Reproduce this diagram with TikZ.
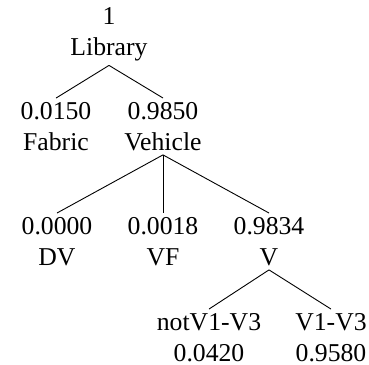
\documentclass[tikz,border=0pt]{standalone}
\usepackage{fontspec}
\setmainfont{Liberation Serif}
\usetikzlibrary{positioning}

\begin{document}
\begin{tikzpicture}[
    x=1pt, y=1pt,
    node distance=92pt,
    font=\fontsize{25.7}{31}\selectfont,
    prob/.style={
		align=center,
		inner xsep=0pt,
		inner ysep=4pt
	},
	branch/.style={
		draw=black,
		line width=0.9pt
	}
  ]
  \useasboundingbox (0,0) rectangle (369,364);
    % We start by placing the nodes

  \node [prob, anchor=north] (library) at (109,360.5) {1\\Library};

  \node [prob, below of=library, xshift=-53pt] (fabric) {0.0150\\Fabric};
  \node [prob, below of=library, xshift=54pt] (vehicle) {0.9850\\Vehicle};

  \node [prob, below of=vehicle, node distance=115pt, xshift=-106pt] (dv) {0.0000\\DV};
  \node [prob, below of=vehicle, node distance=115pt] (vf) {0.0018\\VF};
  \node [prob, below of=vehicle, node distance=115pt, xshift=106pt] (v) {0.9834\\V};

  \node [prob, below of=v, node distance=96pt, xshift=-60pt] (notv) {notV1-V3\\0.0420};
  \node [prob, below of=v, node distance=96pt, xshift=62pt] (vonethree) {V1-V3\\0.9580};

  % then the branches
  \draw [branch] (library.south) -- (fabric.north);
  \draw [branch] (library.south) -- (vehicle.north);
  \draw [branch] (vehicle.south) -- (dv.north);
  \draw [branch] (vehicle.south) -- (vf.north);
  \draw [branch] (vehicle.south) -- (v.north);
  \draw [branch] (v.south) -- (notv.north);
  \draw [branch] (v.south) -- (vonethree.north);

\end{tikzpicture}
\end{document}
